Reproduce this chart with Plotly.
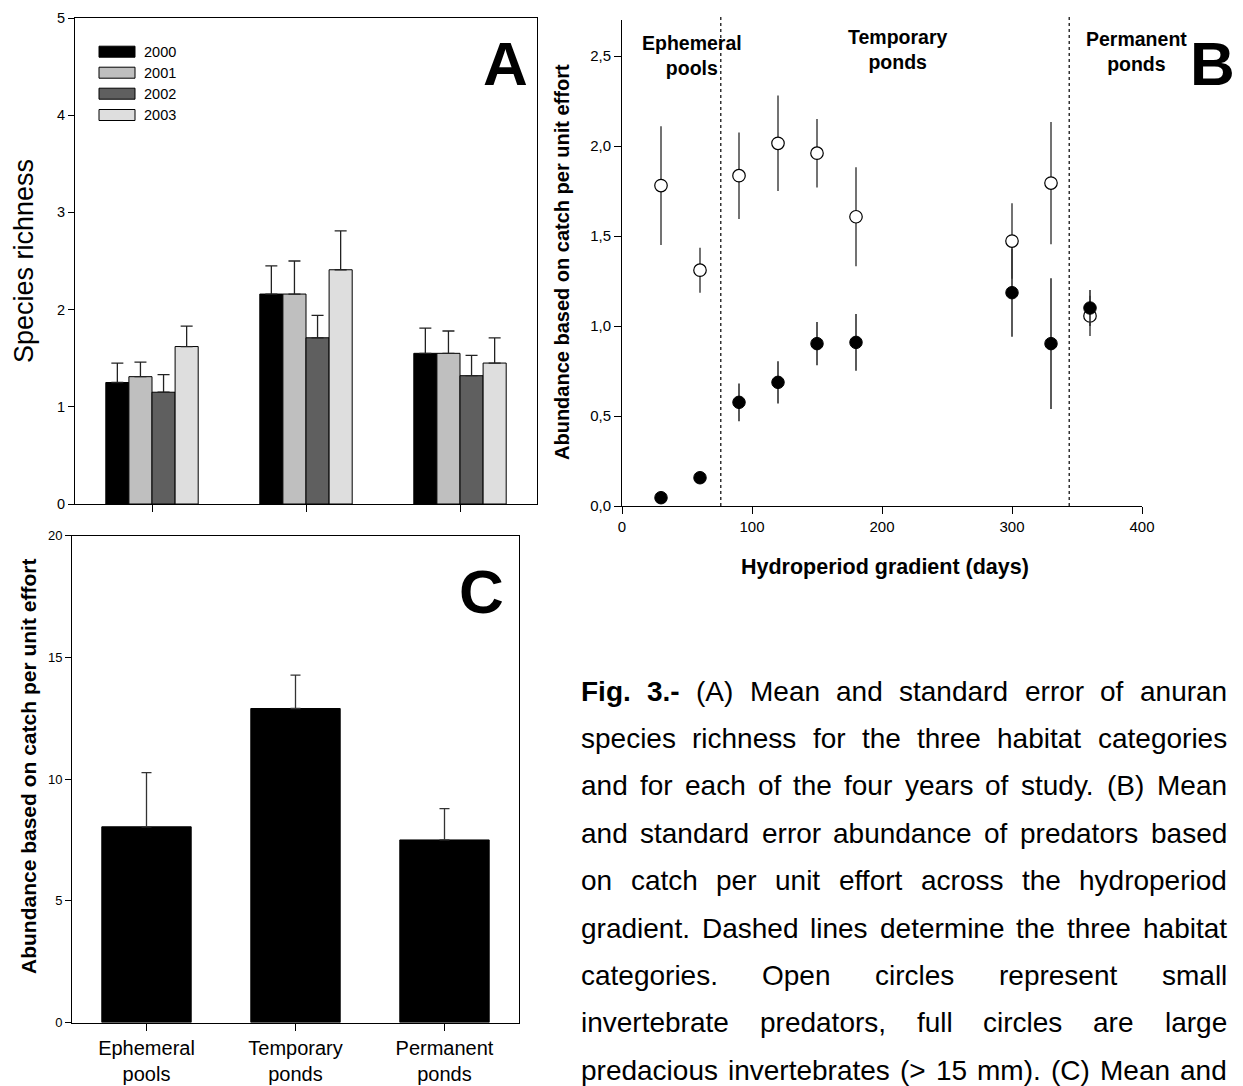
import plotly.graph_objects as go

W, H = 1243, 1086

# ---------------- data ----------------
habitats = ["Ephemeral<br>pools", "Temporary<br>ponds", "Permanent<br>ponds"]
years = ["2000", "2001", "2002", "2003"]
year_colors = ["#000000", "#bfbfbf", "#5f5f5f", "#dedede"]

richness_2000 = [1.25, 2.16, 1.55]
richness_2001 = [1.31, 2.16, 1.55]
richness_2002 = [1.15, 1.71, 1.32]
richness_2003 = [1.62, 2.41, 1.45]
se_2000 = [0.20, 0.29, 0.26]
se_2001 = [0.15, 0.34, 0.23]
se_2002 = [0.18, 0.23, 0.21]
se_2003 = [0.21, 0.40, 0.26]

hydroperiod = [30, 60, 90, 120, 150, 180, 300, 330, 360]
small_mean = [1.78, 1.31, 1.835, 2.015, 1.96, 1.607, 1.472, 1.794, 1.056]
small_se = [0.33, 0.125, 0.24, 0.265, 0.19, 0.275, 0.21, 0.34, 0.112]
large_mean = [0.046, 0.157, 0.576, 0.687, 0.902, 0.909, 1.185, 0.902, 1.10]
large_se = [0.01, 0.03, 0.105, 0.117, 0.12, 0.158, 0.245, 0.363, 0.10]
habitat_boundaries = [76, 344]
b_yticks = [0.0, 0.5, 1.0, 1.5, 2.0, 2.5]
b_yticklabels = ["0,0", "0,5", "1,0", "1,5", "2,0", "2,5"]

abund_mean = [8.04, 12.9, 7.50]
abund_se = [2.23, 1.37, 1.29]

caption_lines = [
    "Fig. 3.- (A) Mean and standard error of anuran",
    "species richness for the three habitat categories",
    "and for each of the four years of study. (B) Mean",
    "and standard error abundance of predators based",
    "on catch per unit effort across the hydroperiod",
    "gradient. Dashed lines determine the three habitat",
    "categories. Open circles represent small",
    "invertebrate predators, full circles are large",
    "predacious invertebrates (> 15 mm). (C) Mean and",
]

richness_by_year = [richness_2000, richness_2001, richness_2002, richness_2003]
se_by_year = [se_2000, se_2001, se_2002, se_2003]

FONT = "Liberation Sans, Arial, Helvetica, sans-serif"


def px(x):
    return x / W


def py(y):
    return 1 - y / H


# Arial/Helvetica advance widths (1/1000 em)
_REG = {' ': 278, '!': 278, '"': 355, '#': 556, '$': 556, '%': 889, '&': 667, "'": 191,
        '(': 333, ')': 333, '*': 389, '+': 584, ',': 278, '-': 333, '.': 278, '/': 278,
        ':': 278, ';': 278, '<': 584, '=': 584, '>': 584, '?': 556, '@': 1015,
        'A': 667, 'B': 667, 'C': 722, 'D': 722, 'E': 667, 'F': 611, 'G': 778, 'H': 722,
        'I': 278, 'J': 500, 'K': 667, 'L': 556, 'M': 833, 'N': 722, 'O': 778, 'P': 667,
        'Q': 778, 'R': 722, 'S': 667, 'T': 611, 'U': 722, 'V': 667, 'W': 944, 'X': 667,
        'Y': 667, 'Z': 611, 'a': 556, 'b': 556, 'c': 500, 'd': 556, 'e': 556, 'f': 278,
        'g': 556, 'h': 556, 'i': 222, 'j': 222, 'k': 500, 'l': 222, 'm': 833, 'n': 556,
        'o': 556, 'p': 556, 'q': 556, 'r': 333, 's': 500, 't': 278, 'u': 556, 'v': 500,
        'w': 722, 'x': 500, 'y': 500, 'z': 500}
for d in "0123456789":
    _REG[d] = 556
_BOLD = dict(_REG)
_BOLD.update({'F': 611, 'i': 278, 'g': 611})


def text_width(s, size, bold=False):
    table = _BOLD if bold else _REG
    return sum(table.get(c, 556) for c in s) * size / 1000.0


fig = go.Figure()

# ---------------- Panel A ----------------
for yr, col, vals, err in zip(years, year_colors, richness_by_year, se_by_year):
    fig.add_trace(go.Bar(
        x=habitats, y=vals, name=yr, showlegend=False,
        marker=dict(color=col, line=dict(color="#000000", width=1)),
        error_y=dict(type="data", array=err, arrayminus=[0] * len(err), symmetric=False,
                     color="#222222", thickness=1.3, width=6),
        xaxis="x", yaxis="y"))

# ---------------- Panel B ----------------
fig.add_trace(go.Scatter(
    x=hydroperiod, y=small_mean, mode="markers", showlegend=False,
    marker=dict(symbol="circle", size=12.5, color="white", line=dict(color="black", width=1.2)),
    error_y=dict(type="data", array=small_se, color="#505050", thickness=1.6, width=0),
    xaxis="x2", yaxis="y2"))
fig.add_trace(go.Scatter(
    x=hydroperiod, y=large_mean, mode="markers", showlegend=False,
    marker=dict(symbol="circle", size=12.5, color="black", line=dict(color="black", width=1)),
    error_y=dict(type="data", array=large_se, color="#303030", thickness=1.6, width=0),
    xaxis="x2", yaxis="y2"))

# ---------------- Panel C ----------------
fig.add_trace(go.Bar(
    x=habitats, y=abund_mean, showlegend=False,
    marker=dict(color="#000000", line=dict(color="#000000", width=1)),
    error_y=dict(type="data", array=abund_se, arrayminus=[0] * len(abund_se), symmetric=False,
                 color="#333333", thickness=1.3, width=5),
    xaxis="x3", yaxis="y3"))

axis_common = dict(showline=True, linecolor="black", linewidth=1, showgrid=False,
                   zeroline=False, ticks="outside", tickcolor="black", tickwidth=1,
                   automargin=False,
                   tickfont=dict(family=FONT, color="black"))

fig.update_layout(
    width=W, height=H,
    margin=dict(l=0, r=0, t=0, b=0, pad=0, autoexpand=False),
    paper_bgcolor="white", plot_bgcolor="white",
    barmode="group", bargap=0.4, bargroupgap=0,
    font=dict(family=FONT, color="black"),
    xaxis=dict(axis_common, domain=[px(75), px(537)], anchor="y", range=[-0.5, 2.5],
               mirror=True, ticklen=7, showticklabels=False),
    yaxis=dict(axis_common, domain=[py(504), py(18)], anchor="x", range=[0, 5], dtick=1,
               mirror=True, ticklen=6, tickfont=dict(family=FONT, size=14.5, color="black")),
    xaxis2=dict(axis_common, domain=[px(622), px(1142)], anchor="y2", range=[0, 400], dtick=100,
                ticklen=7, tickfont=dict(family=FONT, size=15, color="black")),
    yaxis2=dict(axis_common, domain=[py(506), py(20)], anchor="x2", range=[0, 2.7],
                tickvals=b_yticks, ticktext=b_yticklabels, ticklen=7,
                tickfont=dict(family=FONT, size=15, color="black")),
    xaxis3=dict(axis_common, domain=[px(72), px(519)], anchor="y3", range=[-0.5, 2.5],
                mirror=True, ticklen=7, tickfont=dict(family=FONT, size=20, color="black")),
    yaxis3=dict(axis_common, domain=[py(1022.5), py(535.7)], anchor="x3", range=[0, 20], dtick=5,
                mirror=True, ticklen=6, tickfont=dict(family=FONT, size=13, color="black")),
)

shapes = []
for b in habitat_boundaries:
    shapes.append(dict(type="line", xref="x2", yref="y2 domain", x0=b, x1=b, y0=0, y1=1.007,
                       line=dict(color="black", width=1.2, dash="dot")))

annotations = []

# legend for panel A
legend_rows = [51.7, 72.7, 93.7, 115]
for yr, col, cy in zip(years, year_colors, legend_rows):
    shapes.append(dict(type="rect", xref="paper", yref="paper",
                       x0=px(99), x1=px(135), y0=py(cy + 5.5), y1=py(cy - 5.5),
                       fillcolor=col, line=dict(color="black", width=1)))
    annotations.append(dict(x=px(142), y=py(cy), xref="paper", yref="paper", text=yr,
                            showarrow=False, xanchor="left", yanchor="middle",
                            font=dict(family=FONT, size=14.5, color="black")))

# panel letters
for letter, cx, cy in [("A", 505, 63), ("B", 1212, 64), ("C", 481, 591)]:
    annotations.append(dict(x=px(cx), y=py(cy), xref="paper", yref="paper",
                            text=f"<b>{letter}</b>", showarrow=False,
                            xanchor="center", yanchor="middle",
                            font=dict(family=FONT, size=62, color="black")))

# axis titles
annotations += [
    dict(x=px(24), y=py(261), xref="paper", yref="paper", text="Species richness",
         textangle=-90, showarrow=False, xanchor="center", yanchor="middle",
         font=dict(family=FONT, size=27, color="black")),
    dict(x=px(562), y=py(262), xref="paper", yref="paper",
         text="<b>Abundance based on catch per unit effort</b>",
         textangle=-90, showarrow=False, xanchor="center", yanchor="middle",
         font=dict(family=FONT, size=20, color="black")),
    dict(x=px(885), y=py(567), xref="paper", yref="paper",
         text="<b>Hydroperiod gradient (days)</b>",
         showarrow=False, xanchor="center", yanchor="middle",
         font=dict(family=FONT, size=21.5, color="black")),
    dict(x=px(28), y=py(767), xref="paper", yref="paper",
         text="<b>Abundance based on catch per unit effort</b>",
         textangle=-90, showarrow=False, xanchor="center", yanchor="middle",
         font=dict(family=FONT, size=21, color="black")),
]

# habitat labels in panel B
for txt, cx, cy in [("Ephemeral<br>pools", 692, 55), ("Temporary<br>ponds", 897, 49),
                    ("Permanent<br>ponds", 1136, 52)]:
    annotations.append(dict(x=px(cx), y=py(cy), xref="paper", yref="paper",
                            text=f"<b>{txt}</b>", showarrow=False,
                            xanchor="center", yanchor="middle",
                            font=dict(family=FONT, size=19.5, color="black")))

# justified caption
cap_left, cap_right = 580, 1226
cap_y0, cap_dy = 691, 47.4
cap_size = 28
bold_words = {(0, 0), (0, 1)}
for i, line in enumerate(caption_lines):
    words = line.split(" ")
    widths = [text_width(w, cap_size, (i, j) in bold_words) for j, w in enumerate(words)]
    gap = (cap_right - cap_left - sum(widths)) / (len(words) - 1)
    x = cap_left
    for j, w in enumerate(words):
        disp = w.replace(">", "&gt;")
        if (i, j) in bold_words:
            disp = f"<b>{disp}</b>"
        annotations.append(dict(x=px(x), y=py(cap_y0 + i * cap_dy), xref="paper", yref="paper",
                                text=disp, showarrow=False, xanchor="left", yanchor="middle",
                                borderpad=0, font=dict(family=FONT, size=cap_size, color="black")))
        x += widths[j] + gap

fig.update_layout(shapes=shapes, annotations=annotations)

fig.write_html("out.html", config={"displayModeBar": False},
               post_script="document.body.style.margin='0';document.body.style.overflow='hidden';")
